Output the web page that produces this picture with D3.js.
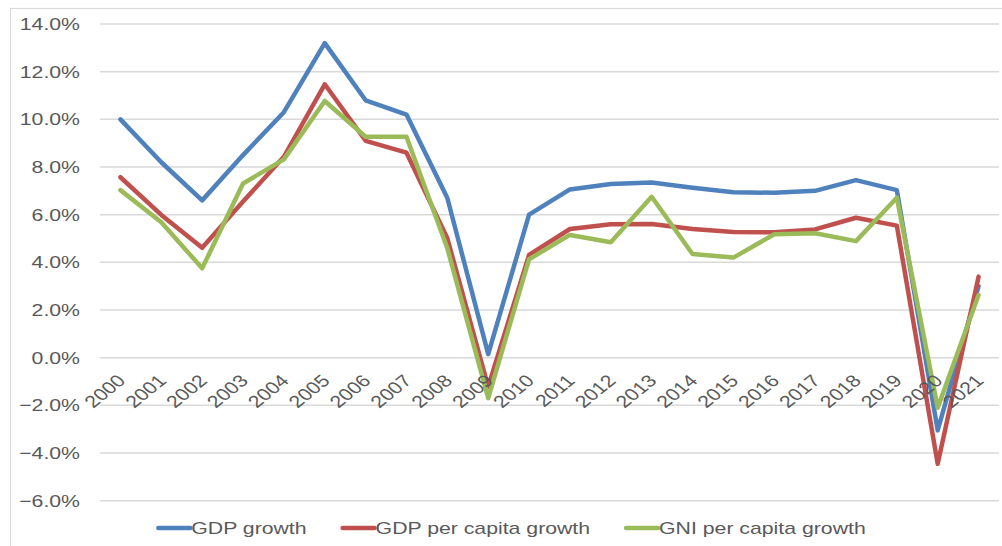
<!DOCTYPE html>
<html>
<head>
<meta charset="utf-8">
<script src="https://cdn.jsdelivr.net/npm/d3@7"></script>
<style>
	body { margin: 0; background: #ffffff; }
	svg { display: block; }
	text { font-family: "Liberation Sans", Arial, sans-serif; fill: #595959; }
</style>
</head>
<body>
<div class="chart"></div>
<script>
var years = ["2000", "2001", "2002", "2003", "2004", "2005", "2006", "2007", "2008", "2009", "2010",
	"2011", "2012", "2013", "2014", "2015", "2016", "2017", "2018", "2019", "2020", "2021"];

var gdpGrowth = [10.0, 8.2, 6.6, 8.5, 10.3, 13.2, 10.8, 10.2, 6.7, 0.15, 6.0,
	7.06, 7.29, 7.35, 7.13, 6.94, 6.92, 7.0, 7.45, 7.03, -3.05, 3.0];
var gdpPerCapitaGrowth = [7.57, 5.99, 4.61, 6.55, 8.43, 11.47, 9.1, 8.6, 5.01, -1.22, 4.31,
	5.4, 5.6, 5.61, 5.4, 5.27, 5.26, 5.38, 5.87, 5.54, -4.45, 3.4];
var gniPerCapitaGrowth = [7.03, 5.68, 3.75, 7.31, 8.32, 10.77, 9.27, 9.27, 4.59, -1.7, 4.13,
	5.15, 4.84, 6.75, 4.35, 4.2, 5.18, 5.22, 4.89, 6.71, -2.1, 2.63];

var seriesNames = ["GDP growth", "GDP per capita growth", "GNI per capita growth"];
var seriesColors = ["#4f81bd", "#c0504d", "#9bbb59"];
var yTicks = [-6, -4, -2, 0, 2, 4, 6, 8, 10, 12, 14];

var width = 1002, height = 546;
var stretch = 1.25; // text in the picture is widened horizontally
var margin = {top: 24, right: 3, bottom: 45, left: 100};

var svg = d3.select(".chart").append("svg")
	.attr("width", width)
	.attr("height", height);

// outer frame
svg.append("rect")
	.attr("x", 10.5)
	.attr("y", 8.5)
	.attr("width", width + 10)
	.attr("height", height + 10)
	.attr("fill", "none")
	.attr("stroke", "#d9d9d9")
	.attr("stroke-width", 1.2);

var x = d3.scaleBand()
	.domain(years)
	.range([margin.left, width - margin.right]);

var y = d3.scaleLinear()
	.domain([-6, 14])
	.range([500.7, margin.top]);

var grid = svg.append("g");
grid.selectAll("line").data(yTicks)
	.enter().append("line")
	.attr("x1", margin.left)
	.attr("x2", width - margin.right)
	.attr("y1", function(d) { return y(d); })
	.attr("y2", function(d) { return y(d); })
	.attr("stroke", "#d9d9d9")
	.attr("stroke-width", 1.5);

var fmt = d3.format(".1f");
svg.append("g").selectAll("text").data(yTicks)
	.enter().append("text")
	.attr("transform", function(d) { return "translate(80," + y(d) + ") scale(" + stretch + ",1)"; })
	.attr("dy", "0.36em")
	.attr("text-anchor", "end")
	.attr("font-size", 17)
	.text(function(d) { return fmt(d) + "%"; });

var line = d3.line()
	.x(function(d, i) { return x(years[i]) + x.bandwidth() / 2; })
	.y(function(d) { return y(d); });

var allSeries = [gdpGrowth, gdpPerCapitaGrowth, gniPerCapitaGrowth];
svg.append("g").selectAll("path").data(allSeries)
	.enter().append("path")
	.attr("d", line)
	.attr("fill", "none")
	.attr("stroke", function(d, i) { return seriesColors[i]; })
	.attr("stroke-width", 4.5)
	.attr("stroke-linejoin", "round")
	.attr("stroke-linecap", "round");

// category labels, rotated, sitting under the zero line
svg.append("g").selectAll("text").data(years)
	.enter().append("text")
	.attr("transform", function(d) {
		var cx = x(d) + x.bandwidth() / 2;
		return "translate(" + (cx + 1) + "," + (y(0) + 20) + ") scale(" + stretch + ",1) rotate(-45)";
	})
	.attr("dy", "0.35em")
	.attr("text-anchor", "end")
	.attr("font-size", 17)
	.text(function(d) { return d; });

// legend
var legend = svg.append("g");
var items = legend.selectAll("g").data(seriesNames)
	.enter().append("g");

items.append("line")
	.attr("x1", 0)
	.attr("x2", 32)
	.attr("y1", 0)
	.attr("y2", 0)
	.attr("stroke", function(d, i) { return seriesColors[i]; })
	.attr("stroke-width", 4.5)
	.attr("stroke-linecap", "round");

items.append("text")
	.attr("transform", "translate(33,0) scale(" + stretch + ",1)")
	.attr("dy", "0.36em")
	.attr("font-size", 17)
	.text(function(d) { return d; });

var offsets = [];
var total = 0;
items.each(function() {
	var w = 33 + this.querySelector("text").getComputedTextLength() * stretch;
	offsets.push(total);
	total += w + 36;
});
total -= 36;
var startX = 512 - total / 2;
items.attr("transform", function(d, i) { return "translate(" + (startX + offsets[i]) + ",528)"; });
</script>
</body>
</html>
